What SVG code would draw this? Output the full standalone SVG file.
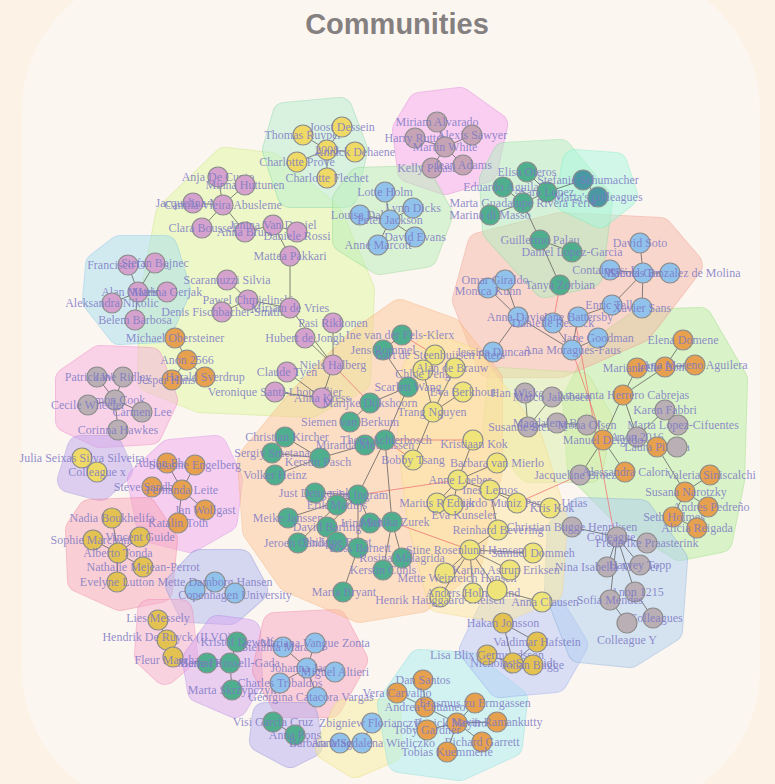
<svg xmlns="http://www.w3.org/2000/svg" xmlns:xlink="http://www.w3.org/1999/xlink" width="775" height="784" viewBox="0 0 775 784">
<style>
.title{font-family:"Liberation Sans",Arial,sans-serif;font-weight:bold;font-size:29px;fill:#858080;text-anchor:middle}
text.l{font-family:"Liberation Serif","Times New Roman",serif;font-size:12px;fill:#7c78c4;fill-opacity:0.85;text-anchor:middle}
circle{stroke:#8c8c8c;stroke-width:1.2}
.nl{fill:#d4a2cc}.ny{fill:#f0da66}.ny2{fill:#eee47a}.nm{fill:#c6a4b6}.nb{fill:#90c2ec}.nt{fill:#4fae8e}.no{fill:#e6a04e}.ng{fill:#b9afb5}.nd{fill:#e4c252}
.e{stroke:#5a5a5a;stroke-width:1;fill:none;stroke-opacity:0.75}
.er{stroke:#f07070;stroke-width:1;fill:none;stroke-opacity:0.75}
.hull{opacity:0.5}
</style>
<defs>
<polygon id="hA" points="285,115 340,110 355,150 345,195 290,195 275,150"/>
<polygon id="hB" points="420,105 460,100 495,125 485,170 445,182 410,170 405,130"/>
<polygon id="hC" points="360,180 420,178 440,215 425,255 380,262 345,240 345,200"/>
<polygon id="hD" points="225,160 270,165 330,215 362,290 358,380 310,405 200,400 150,380 152,300 168,215"/>
<polygon id="hE" points="120,248 165,248 178,290 160,330 120,332 95,300 98,265"/>
<polygon id="hG" points="100,358 150,360 165,400 150,432 100,435 68,420 68,380"/>
<polygon id="hH" points="80,448 110,448 120,470 100,488 70,480"/>
<polygon id="hI" points="170,452 215,448 230,480 225,520 190,540 150,530 140,480"/>
<polygon id="hJ" points="90,512 145,510 165,540 160,590 120,598 80,580 78,530"/>
<polygon id="hK" points="200,562 240,562 255,590 230,612 190,610 178,585"/>
<polygon id="hL" points="150,612 180,612 185,655 165,672 147,655"/>
<polygon id="hM" points="218,628 248,632 250,680 235,705 200,690 195,660"/>
<polygon id="hN" points="275,625 335,622 355,660 330,705 285,705 265,670"/>
<polygon id="hO" points="265,715 305,715 310,745 290,755 262,740"/>
<polygon id="hP" points="345,712 388,712 390,750 355,765 328,748"/>
<polygon id="hQ" points="420,662 470,665 515,700 510,745 460,768 400,760 390,705"/>
<polygon id="hR" points="490,612 555,612 575,645 555,680 500,685 472,650"/>
<polygon id="hS" points="580,510 640,512 675,560 670,630 630,655 580,650 557,590 560,530"/>
<polygon id="hT" points="640,322 700,320 735,380 732,480 720,540 680,548 620,510 580,470 575,400 600,350"/>
<polygon id="hU" points="500,380 580,385 600,420 590,470 530,470 495,430"/>
<polygon id="hV" points="480,245 560,225 660,230 690,265 640,330 560,365 490,365 465,300"/>
<polygon id="hW" points="505,155 560,152 600,200 590,275 545,285 495,230 492,180"/>
<polygon id="hW2" points="575,162 615,165 625,195 600,215 568,200"/>
<polygon id="hX" points="400,312 450,330 490,380 490,470 470,560 420,600 360,610 290,580 255,530 250,460 300,400 360,340"/>
<polygon id="hY" points="430,345 470,360 530,440 555,520 550,590 500,610 440,600 420,520 410,440 415,370"/>
</defs>
<rect x="0" y="0" width="775" height="784" fill="#fdf2e6"/>
<rect x="22" y="-30" width="738" height="840" rx="140" fill="#fcf6f1"/>
<text class="title" x="397" y="34">Communities</text>
<g id="hulls">
<g class="hull"><use xlink:href="#hD" fill="#e0f8a0" stroke="#c8e878" stroke-width="26" stroke-linejoin="round"/><use xlink:href="#hD" fill="#e0f8a0" stroke="#e0f8a0" stroke-width="24" stroke-linejoin="round"/></g>
<g class="hull"><use xlink:href="#hA" fill="#b8f0d0" stroke="#80d8a8" stroke-width="26" stroke-linejoin="round"/><use xlink:href="#hA" fill="#b8f0d0" stroke="#b8f0d0" stroke-width="24" stroke-linejoin="round"/></g>
<g class="hull"><use xlink:href="#hB" fill="#f8a8f0" stroke="#e080e0" stroke-width="26" stroke-linejoin="round"/><use xlink:href="#hB" fill="#f8a8f0" stroke="#f8a8f0" stroke-width="24" stroke-linejoin="round"/></g>
<g class="hull"><use xlink:href="#hC" fill="#b8f0b8" stroke="#90d890" stroke-width="26" stroke-linejoin="round"/><use xlink:href="#hC" fill="#b8f0b8" stroke="#b8f0b8" stroke-width="24" stroke-linejoin="round"/></g>
<g class="hull"><use xlink:href="#hE" fill="#a8e0f0" stroke="#80c8e8" stroke-width="26" stroke-linejoin="round"/><use xlink:href="#hE" fill="#a8e0f0" stroke="#a8e0f0" stroke-width="24" stroke-linejoin="round"/></g>
<g class="hull"><use xlink:href="#hG" fill="#f8b0e0" stroke="#f080c8" stroke-width="26" stroke-linejoin="round"/><use xlink:href="#hG" fill="#f8b0e0" stroke="#f8b0e0" stroke-width="24" stroke-linejoin="round"/></g>
<g class="hull"><use xlink:href="#hH" fill="#c0a8f0" stroke="#a090e0" stroke-width="26" stroke-linejoin="round"/><use xlink:href="#hH" fill="#c0a8f0" stroke="#c0a8f0" stroke-width="24" stroke-linejoin="round"/></g>
<g class="hull"><use xlink:href="#hI" fill="#f0a8f0" stroke="#d888e8" stroke-width="26" stroke-linejoin="round"/><use xlink:href="#hI" fill="#f0a8f0" stroke="#f0a8f0" stroke-width="24" stroke-linejoin="round"/></g>
<g class="hull"><use xlink:href="#hJ" fill="#f8a8b8" stroke="#f08098" stroke-width="26" stroke-linejoin="round"/><use xlink:href="#hJ" fill="#f8a8b8" stroke="#f8a8b8" stroke-width="24" stroke-linejoin="round"/></g>
<g class="hull"><use xlink:href="#hK" fill="#b0b8f0" stroke="#8890e0" stroke-width="26" stroke-linejoin="round"/><use xlink:href="#hK" fill="#b0b8f0" stroke="#b0b8f0" stroke-width="24" stroke-linejoin="round"/></g>
<g class="hull"><use xlink:href="#hL" fill="#f8b0d0" stroke="#f088b8" stroke-width="26" stroke-linejoin="round"/><use xlink:href="#hL" fill="#f8b0d0" stroke="#f8b0d0" stroke-width="24" stroke-linejoin="round"/></g>
<g class="hull"><use xlink:href="#hM" fill="#d8a8f0" stroke="#b888e8" stroke-width="26" stroke-linejoin="round"/><use xlink:href="#hM" fill="#d8a8f0" stroke="#d8a8f0" stroke-width="24" stroke-linejoin="round"/></g>
<g class="hull"><use xlink:href="#hN" fill="#f8a8c0" stroke="#f080a0" stroke-width="26" stroke-linejoin="round"/><use xlink:href="#hN" fill="#f8a8c0" stroke="#f8a8c0" stroke-width="24" stroke-linejoin="round"/></g>
<g class="hull"><use xlink:href="#hO" fill="#b8b0f0" stroke="#9090e0" stroke-width="26" stroke-linejoin="round"/><use xlink:href="#hO" fill="#b8b0f0" stroke="#b8b0f0" stroke-width="24" stroke-linejoin="round"/></g>
<g class="hull"><use xlink:href="#hP" fill="#f8f0a0" stroke="#e8e070" stroke-width="26" stroke-linejoin="round"/><use xlink:href="#hP" fill="#f8f0a0" stroke="#f8f0a0" stroke-width="24" stroke-linejoin="round"/></g>
<g class="hull"><use xlink:href="#hQ" fill="#a8f0f0" stroke="#80e0e0" stroke-width="26" stroke-linejoin="round"/><use xlink:href="#hQ" fill="#a8f0f0" stroke="#a8f0f0" stroke-width="24" stroke-linejoin="round"/></g>
<g class="hull"><use xlink:href="#hR" fill="#b8c8f8" stroke="#90a8f0" stroke-width="26" stroke-linejoin="round"/><use xlink:href="#hR" fill="#b8c8f8" stroke="#b8c8f8" stroke-width="24" stroke-linejoin="round"/></g>
<g class="hull"><use xlink:href="#hT" fill="#b8f0a0" stroke="#90e078" stroke-width="26" stroke-linejoin="round"/><use xlink:href="#hT" fill="#b8f0a0" stroke="#b8f0a0" stroke-width="24" stroke-linejoin="round"/></g>
<g class="hull"><use xlink:href="#hS" fill="#b0d0f0" stroke="#88b0e0" stroke-width="26" stroke-linejoin="round"/><use xlink:href="#hS" fill="#b0d0f0" stroke="#b0d0f0" stroke-width="24" stroke-linejoin="round"/></g>
<g class="hull"><use xlink:href="#hV" fill="#f8b8a8" stroke="#f09888" stroke-width="26" stroke-linejoin="round"/><use xlink:href="#hV" fill="#f8b8a8" stroke="#f8b8a8" stroke-width="24" stroke-linejoin="round"/></g>
<g class="hull"><use xlink:href="#hW" fill="#b0f0c0" stroke="#88e0a0" stroke-width="26" stroke-linejoin="round"/><use xlink:href="#hW" fill="#b0f0c0" stroke="#b0f0c0" stroke-width="24" stroke-linejoin="round"/></g>
<g class="hull"><use xlink:href="#hW2" fill="#a8f8e0" stroke="#80f0c8" stroke-width="26" stroke-linejoin="round"/><use xlink:href="#hW2" fill="#a8f8e0" stroke="#a8f8e0" stroke-width="24" stroke-linejoin="round"/></g>
<g class="hull"><use xlink:href="#hU" fill="#d8f0a8" stroke="#c0e090" stroke-width="26" stroke-linejoin="round"/><use xlink:href="#hU" fill="#d8f0a8" stroke="#d8f0a8" stroke-width="24" stroke-linejoin="round"/></g>
<g class="hull"><use xlink:href="#hX" fill="#fcc898" stroke="#f8b078" stroke-width="26" stroke-linejoin="round"/><use xlink:href="#hX" fill="#fcc898" stroke="#fcc898" stroke-width="24" stroke-linejoin="round"/></g>
<g class="hull"><use xlink:href="#hY" fill="#fce8a0" stroke="#f8d880" stroke-width="26" stroke-linejoin="round"/><use xlink:href="#hY" fill="#fce8a0" stroke="#fce8a0" stroke-width="24" stroke-linejoin="round"/></g>
</g>
<g id="connectors">
<path class="er" d="M575,320L613,528M560,285L553,323M385,440L473,440M392,522L470,550M358,495L458,480M517,503L580,475M333,365L370,403M402,335L435,355M385,440L413,460M572,350L603,440"/>
<path class="e" d="M342,127L327,150M303,135L327,150M327,150L355,152M327,150L297,162M327,150L327,178"/>
<path class="e" d="M437,122L445,147M415,138L445,147M472,135L445,147M445,147L432,168M445,147L463,165"/>
<path class="e" d="M385,192L390,220M413,208L390,220M360,215L390,220M390,220L415,237M390,220L378,245"/>
<path class="e" d="M218,177L223,205M245,185L223,205M193,203L223,205M202,228L223,205M223,205L245,232M245,232L273,225M273,225L297,232M273,225L290,256M290,256L290,308M290,308L333,365M333,323L333,365M305,338L333,365M333,365L322,398M248,300L227,280M248,300L222,312M248,300L290,308M287,372L322,398M275,392L322,398"/>
<path class="e" d="M128,265L138,292M155,263L138,292M138,292L167,292M138,292L112,303M138,292L135,320"/>
<path class="e" d="M175,338L187,360M187,360L172,380M187,360L205,377"/>
<path class="e" d="M97,377L115,400M123,377L115,400M88,405L115,400M142,412L115,400M115,400L118,430"/>
<path class="e" d="M82,458L97,472"/>
<path class="e" d="M167,463L182,490M195,465L182,490M152,487L182,490M182,490L205,510M182,490L178,523"/>
<path class="e" d="M112,518L118,553M93,540L118,553M140,537L118,553M118,553L143,567M118,553L117,582"/>
<path class="e" d="M195,590L215,582M215,582L235,593"/>
<path class="e" d="M158,620L167,640M167,640L173,657"/>
<path class="e" d="M237,642L230,663M207,663L230,663M230,663L232,690"/>
<path class="e" d="M283,647L307,668M315,643L307,668M307,668L335,672M307,668L280,683M307,668L317,697"/>
<path class="e" d="M273,722L295,735"/>
<path class="e" d="M372,723L362,743M340,743L362,743"/>
<path class="e" d="M423,680L425,707M397,693L425,707M425,707L457,723M475,703L457,723M497,722L457,723M427,730L457,723M482,742L457,723M447,752L457,723"/>
<path class="e" d="M503,623L513,663M537,642L513,663M487,655L513,663M533,665L513,663M503,623L537,642"/>
<path class="e" d="M617,537L572,527M617,537L647,543M617,537L607,567M617,537L640,565M617,537L635,592M617,537L610,600M635,592L653,618M610,600L627,623"/>
<path class="e" d="M683,340L665,367M637,368L623,395M665,367L623,395M695,365L665,367M623,395L603,440M603,440L625,472M657,447L637,437M665,410L678,425M637,437L665,410M710,475L685,492M685,492L708,507M685,492L673,517M673,517L697,528M657,447L685,492M603,440L580,475M623,395L637,437M657,447L677,447"/>
<path class="e" d="M525,393L528,427M552,397L528,427M528,427L557,423M557,423L587,425"/>
<path class="e" d="M640,243L643,273M610,270L643,273M643,273L670,273M643,273L612,305M643,273L642,308M612,305L578,317M578,317L572,350M518,317L572,350M553,323L572,350M598,338L572,350M493,352L518,317M488,288L518,317M505,280L518,317"/>
<path class="e" d="M527,172L547,192M503,187L523,203M547,192L523,203M523,203L540,240M490,215L523,203M540,240L560,285M572,252L540,240M583,180L598,197M547,192L583,180"/>
<path class="e" d="M402,335L383,350M383,350L408,387M408,387L370,403M370,403L350,422M385,440L408,387M385,440L365,445M365,445L320,458M320,458L285,437M320,458L272,453M320,458L275,475M385,440L358,495M358,495L315,493M358,495L337,505M358,495L288,518M358,495L327,527M358,495L370,523M385,440L392,522M392,522L402,558M392,522L383,570M358,495L358,548M337,542L358,548M298,543L337,505M358,548L343,592"/>
<path class="e" d="M435,355L423,370M423,370L433,412M455,368L433,412M463,392L433,412M433,412L413,460M473,440L458,480M497,463L458,480M458,480L437,503M458,480L490,490M458,480L453,505M490,490L517,503M490,490L550,508M490,490L498,530M498,530L470,550M470,550L445,573M470,550L510,570M470,550L533,553M470,550L440,597M470,550L473,593M470,550L497,590M497,590L542,602"/>
</g>
<g id="nodes">
<g id="n-thomas-ruyper"><circle cx="303" cy="135" r="10" class="ny"/><text class="l" x="303" y="139">Thomas Ruyper</text></g>
<g id="n-joost-dessein"><circle cx="342" cy="127" r="10" class="ny"/><text class="l" x="342" y="131">Joost Dessein</text></g>
<g id="n-2008"><circle cx="327" cy="150" r="10" class="ny"/><text class="l" x="327" y="154">2008</text></g>
<g id="n-annick-dehaene"><circle cx="355" cy="152" r="10" class="ny"/><text class="l" x="355" y="156">Annick Dehaene</text></g>
<g id="n-charlotte-prove"><circle cx="297" cy="162" r="10" class="ny"/><text class="l" x="297" y="166">Charlotte Prove</text></g>
<g id="n-charlotte-flechet"><circle cx="327" cy="178" r="10" class="ny"/><text class="l" x="327" y="182">Charlotte Flechet</text></g>

<g id="n-miriam-alvarado"><circle cx="437" cy="122" r="10" class="nm"/><text class="l" x="437" y="126">Miriam Alvarado</text></g>
<g id="n-alexis-sawyer"><circle cx="472" cy="135" r="10" class="nm"/><text class="l" x="472" y="139">Alexis Sawyer</text></g>
<g id="n-harry-rutter"><circle cx="415" cy="138" r="10" class="nm"/><text class="l" x="415" y="142">Harry Rutter</text></g>
<g id="n-martin-white"><circle cx="445" cy="147" r="10" class="nm"/><text class="l" x="445" y="151">Martin White</text></g>
<g id="n-kelly-pleasant"><circle cx="432" cy="168" r="10" class="nm"/><text class="l" x="432" y="172">Kelly Pleasant</text></g>
<g id="n-jean-adams"><circle cx="463" cy="165" r="10" class="nm"/><text class="l" x="463" y="169">Jean Adams</text></g>

<g id="n-lotte-holm"><circle cx="385" cy="192" r="10" class="nb"/><text class="l" x="385" y="196">Lotte Holm</text></g>
<g id="n-lynn-dicks"><circle cx="413" cy="208" r="10" class="nb"/><text class="l" x="413" y="212">Lynn Dicks</text></g>
<g id="n-louise-dale"><circle cx="360" cy="215" r="10" class="nb"/><text class="l" x="360" y="219">Louise Dale</text></g>
<g id="n-peter-jackson"><circle cx="390" cy="220" r="10" class="nb"/><text class="l" x="390" y="224">Peter Jackson</text></g>
<g id="n-david-evans"><circle cx="415" cy="237" r="10" class="nb"/><text class="l" x="415" y="241">David Evans</text></g>
<g id="n-anne-marcott"><circle cx="378" cy="245" r="10" class="nb"/><text class="l" x="378" y="249">Anne Marcott</text></g>

<g id="n-anja"><circle cx="218" cy="177" r="10" class="nl"/><text class="l" x="218" y="181">Anja De Cunto</text></g>
<g id="n-minna"><circle cx="245" cy="185" r="10" class="nl"/><text class="l" x="245" y="189">Minna Huttunen</text></g>
<g id="n-jacquelina"><circle cx="193" cy="203" r="10" class="nl"/><text class="l" x="193" y="207">Jacquelina Mac</text></g>
<g id="n-camila"><circle cx="223" cy="205" r="10" class="nl"/><text class="l" x="223" y="209">Camila Vieira Abusleme</text></g>
<g id="n-clara"><circle cx="202" cy="228" r="10" class="nl"/><text class="l" x="202" y="232">Clara Boussel</text></g>
<g id="n-anna-bruni"><circle cx="245" cy="232" r="10" class="nl"/><text class="l" x="245" y="236">Anna Bruni</text></g>
<g id="n-janina"><circle cx="273" cy="225" r="10" class="nl"/><text class="l" x="273" y="229">Janina Van Daniel</text></g>
<g id="n-daniele-rossi"><circle cx="297" cy="232" r="10" class="nl"/><text class="l" x="297" y="240">Daniele Rossi</text></g>
<g id="n-mattea"><circle cx="290" cy="256" r="10" class="nl"/><text class="l" x="290" y="260">Mattea Pakkari</text></g>
<g id="n-scaramuzzi"><circle cx="227" cy="280" r="10" class="nl"/><text class="l" x="227" y="284">Scaramuzzi Silvia</text></g>
<g id="n-pawel"><circle cx="248" cy="300" r="10" class="nl"/><text class="l" x="248" y="304">Pawel Chmielinski</text></g>
<g id="n-denis"><circle cx="222" cy="312" r="10" class="nl"/><text class="l" x="222" y="316">Denis Fischbacher-Smith</text></g>
<g id="n-mirjam"><circle cx="290" cy="308" r="10" class="nl"/><text class="l" x="290" y="312">Mirjam de Vries</text></g>
<g id="n-pasi"><circle cx="333" cy="323" r="10" class="nl"/><text class="l" x="333" y="327">Pasi Rikkonen</text></g>
<g id="n-hubert"><circle cx="305" cy="338" r="10" class="nl"/><text class="l" x="305" y="342">Hubert de Jongh</text></g>
<g id="n-niels"><circle cx="333" cy="365" r="10" class="nl"/><text class="l" x="333" y="369">Niels Halberg</text></g>
<g id="n-claude"><circle cx="287" cy="372" r="10" class="nl"/><text class="l" x="287" y="376">Claude Tyen</text></g>
<g id="n-veronique"><circle cx="275" cy="392" r="10" class="nl"/><text class="l" x="275" y="396">Veronique Santi-Lhoutellier</text></g>
<g id="n-anna-kress"><circle cx="322" cy="398" r="10" class="nl"/><text class="l" x="322" y="402">Anna Kress</text></g>

<g id="n-francisco"><circle cx="128" cy="265" r="10" class="nl"/><text class="l" x="128" y="269">Francisco Olmos</text></g>
<g id="n-stefan"><circle cx="155" cy="263" r="10" class="nl"/><text class="l" x="155" y="267">Stefan Bojnec</text></g>
<g id="n-alan-m"><circle cx="138" cy="292" r="10" class="nl"/><text class="l" x="138" y="296">Alan Matthews</text></g>
<g id="n-marina-g"><circle cx="167" cy="292" r="10" class="nl"/><text class="l" x="167" y="296">Marina Gerjak</text></g>
<g id="n-aleksandra"><circle cx="112" cy="303" r="10" class="nl"/><text class="l" x="112" y="307">Aleksandra Nikolic</text></g>
<g id="n-belem"><circle cx="135" cy="320" r="10" class="nl"/><text class="l" x="135" y="324">Belem Barbosa</text></g>

<g id="n-michael-o"><circle cx="175" cy="338" r="10" class="no"/><text class="l" x="175" y="342">Michael Obersteiner</text></g>
<g id="n-anon2566"><circle cx="187" cy="360" r="10" class="no"/><text class="l" x="187" y="364">Anon 2566</text></g>
<g id="n-jesper"><circle cx="172" cy="380" r="10" class="no"/><text class="l" x="172" y="384">Jesper Hansen</text></g>
<g id="n-harald"><circle cx="205" cy="377" r="10" class="no"/><text class="l" x="205" y="381">Harald Sverdrup</text></g>

<g id="n-patrick-webb"><circle cx="97" cy="377" r="10" class="ng"/><text class="l" x="97" y="381">Patrick Webb</text></g>
<g id="n-jane-ridley"><circle cx="123" cy="377" r="10" class="ng"/><text class="l" x="123" y="381">Jane Ridley</text></g>
<g id="n-simon-cook"><circle cx="115" cy="400" r="10" class="ng"/><text class="l" x="115" y="404">Simon Cook</text></g>
<g id="n-cecile"><circle cx="88" cy="405" r="10" class="ng"/><text class="l" x="88" y="409">Cecile Wheeler</text></g>
<g id="n-carmen-lee"><circle cx="142" cy="412" r="10" class="ng"/><text class="l" x="142" y="416">Carmen Lee</text></g>
<g id="n-corinna"><circle cx="118" cy="430" r="10" class="ng"/><text class="l" x="118" y="434">Corinna Hawkes</text></g>

<g id="n-julia"><circle cx="82" cy="458" r="10" class="ny"/><text class="l" x="82" y="462">Julia Seixas Silva Silveira</text></g>
<g id="n-colleague-x"><circle cx="97" cy="472" r="10" class="ny"/><text class="l" x="97" y="476">Colleague x</text></g>

<g id="n-adrian"><circle cx="167" cy="463" r="10" class="no"/><text class="l" x="167" y="467">Adrian Ebsen</text></g>
<g id="n-susanne-e"><circle cx="195" cy="465" r="10" class="no"/><text class="l" x="195" y="469">Susanne Engelberg</text></g>
<g id="n-steve"><circle cx="152" cy="487" r="10" class="no"/><text class="l" x="152" y="491">Steve Sandbach</text></g>
<g id="n-fernanda"><circle cx="182" cy="490" r="10" class="no"/><text class="l" x="182" y="494">Fernanda Leite</text></g>
<g id="n-jan-wollgast"><circle cx="205" cy="510" r="10" class="no"/><text class="l" x="205" y="514">Jan Wollgast</text></g>
<g id="n-katalin"><circle cx="178" cy="523" r="10" class="no"/><text class="l" x="178" y="527">Katalin Toth</text></g>

<g id="n-nadia-b"><circle cx="112" cy="518" r="10" class="nd"/><text class="l" x="112" y="522">Nadia Boukhelifa</text></g>
<g id="n-sophie"><circle cx="93" cy="540" r="10" class="nd"/><text class="l" x="93" y="544">Sophie Marchand</text></g>
<g id="n-vincent"><circle cx="140" cy="537" r="10" class="nd"/><text class="l" x="140" y="541">Vincent Guide</text></g>
<g id="n-alberto"><circle cx="118" cy="553" r="10" class="nd"/><text class="l" x="118" y="557">Alberto Tonda</text></g>
<g id="n-nathalie"><circle cx="143" cy="567" r="10" class="nd"/><text class="l" x="143" y="571">Nathalie Mejean-Perrot</text></g>
<g id="n-evelyne"><circle cx="117" cy="582" r="10" class="nd"/><text class="l" x="117" y="586">Evelyne Lutton</text></g>

<g id="n-k1"><circle cx="195" cy="590" r="10" class="nb"/></g>
<g id="n-mette-d"><circle cx="215" cy="582" r="10" class="nb"/><text class="l" x="215" y="586">Mette Damborg Hansen</text></g>
<g id="n-cph"><circle cx="235" cy="593" r="10" class="nb"/><text class="l" x="235" y="599">Copenhagen University</text></g>

<g id="n-lies"><circle cx="158" cy="620" r="10" class="nd"/><text class="l" x="158" y="622">Lies Messely</text></g>
<g id="n-hendrik"><circle cx="167" cy="640" r="10" class="nd"/><text class="l" x="167" y="641">Hendrik De Ruyck (ILVO)</text></g>
<g id="n-fleur"><circle cx="173" cy="657" r="10" class="nd"/><text class="l" x="173" y="664">Fleur Marchand</text></g>

<g id="n-kristof"><circle cx="237" cy="642" r="10" class="nt"/><text class="l" x="237" y="646">Kristof Dewulf</text></g>
<g id="n-marie-f"><circle cx="207" cy="663" r="10" class="nt"/><text class="l" x="207" y="667">Marie Fosse</text></g>
<g id="n-bernat"><circle cx="230" cy="663" r="10" class="nt"/><text class="l" x="230" y="667">Bernat Rossell-Gada</text></g>
<g id="n-marta-s"><circle cx="232" cy="690" r="10" class="nt"/><text class="l" x="232" y="694">Marta Skrzypczyk</text></g>

<g id="n-stefania"><circle cx="283" cy="647" r="10" class="nb"/><text class="l" x="283" y="651">Stefania Marasca</text></g>
<g id="n-mariana-vz"><circle cx="315" cy="643" r="10" class="nb"/><text class="l" x="315" y="647">Mariana Vangue Zonta</text></g>
<g id="n-johanna"><circle cx="307" cy="668" r="10" class="nb"/><text class="l" x="307" y="672">Johanna Jacobi</text></g>
<g id="n-miguel"><circle cx="335" cy="672" r="10" class="nb"/><text class="l" x="335" y="676">Miguel Altieri</text></g>
<g id="n-charles"><circle cx="280" cy="683" r="10" class="nb"/><text class="l" x="280" y="687">Charles Tribaldos</text></g>
<g id="n-georgina"><circle cx="317" cy="697" r="10" class="nb"/><text class="l" x="311" y="701">Georgina Catacora Vargas</text></g>

<g id="n-visi"><circle cx="273" cy="722" r="10" class="nt"/><text class="l" x="273" y="726">Visi Garcia Cruz</text></g>
<g id="n-anna-pons"><circle cx="295" cy="735" r="10" class="nt"/><text class="l" x="295" y="739">Anna Pons</text></g>

<g id="n-zbigniew"><circle cx="372" cy="723" r="10" class="nb"/><text class="l" x="372" y="727">Zbigniew Florianczyk</text></g>
<g id="n-anna-sosna"><circle cx="340" cy="743" r="10" class="nb"/><text class="l" x="340" y="747">Anna Sosna</text></g>
<g id="n-barbara-w"><circle cx="362" cy="743" r="10" class="nb"/><text class="l" x="362" y="747">Barbara Magdalena Wieliczko</text></g>

<g id="n-dan-santos"><circle cx="423" cy="680" r="10" class="no"/><text class="l" x="423" y="684">Dan Santos</text></g>
<g id="n-vera"><circle cx="397" cy="693" r="10" class="no"/><text class="l" x="397" y="697">Vera Carvalho</text></g>
<g id="n-andrea-c"><circle cx="425" cy="707" r="10" class="no"/><text class="l" x="425" y="711">Andrea Cattaneo</text></g>
<g id="n-erasmus"><circle cx="475" cy="703" r="10" class="no"/><text class="l" x="475" y="707">Erasmus zu Ermgassen</text></g>
<g id="n-patrick-m"><circle cx="457" cy="723" r="10" class="no"/><text class="l" x="457" y="727">Patrick Meyfroidt</text></g>
<g id="n-navin"><circle cx="497" cy="722" r="10" class="no"/><text class="l" x="497" y="726">Navin Ramankutty</text></g>
<g id="n-toby"><circle cx="427" cy="730" r="10" class="no"/><text class="l" x="427" y="734">Toby Gardner</text></g>
<g id="n-richard"><circle cx="482" cy="742" r="10" class="no"/><text class="l" x="482" y="746">Richard Garrett</text></g>
<g id="n-tobias"><circle cx="447" cy="752" r="10" class="no"/><text class="l" x="447" y="756">Tobias Kuemmerle</text></g>

<g id="n-hakan"><circle cx="503" cy="623" r="10" class="nd"/><text class="l" x="503" y="627">Hakan Jonsson</text></g>
<g id="n-valdimar"><circle cx="537" cy="642" r="10" class="nd"/><text class="l" x="537" y="646">Valdimar Hafstein</text></g>
<g id="n-lisa"><circle cx="487" cy="655" r="10" class="nd"/><text class="l" x="487" y="659">Lisa Blix Germundsson</text></g>
<g id="n-nicholas"><circle cx="513" cy="663" r="10" class="nd"/><text class="l" x="513" y="667">Nicholas Schmidt</text></g>
<g id="n-johan-b"><circle cx="533" cy="665" r="10" class="nd"/><text class="l" x="533" y="669">Johan Bugge</text></g>

<g id="n-christian-bh"><circle cx="572" cy="527" r="10" class="ng"/><text class="l" x="572" y="531">Christian Bugge Henriksen</text></g>
<g id="n-colleague"><circle cx="617" cy="537" r="10" class="ng"/><text class="l" x="611" y="541">Colleague</text></g>
<g id="n-frederike"><circle cx="647" cy="543" r="10" class="ng"/><text class="l" x="647" y="547">Frederike Praasterink</text></g>
<g id="n-nina"><circle cx="607" cy="567" r="10" class="ng"/><text class="l" x="607" y="571">Nina Isabella Moeller</text></g>
<g id="n-harvey"><circle cx="640" cy="565" r="10" class="ng"/><text class="l" x="640" y="569">Harvey Topp</text></g>
<g id="n-anon1215"><circle cx="635" cy="592" r="10" class="ng"/><text class="l" x="637" y="596">Anon 1215</text></g>
<g id="n-sofia"><circle cx="610" cy="600" r="10" class="ng"/><text class="l" x="610" y="604">Sofia Mendes</text></g>
<g id="n-colleagues"><circle cx="653" cy="618" r="10" class="ng"/><text class="l" x="656" y="622">Colleagues</text></g>
<g id="n-colleague-y"><circle cx="627" cy="623" r="10" class="ng"/><text class="l" x="627" y="644">Colleague Y</text></g>

<g id="n-elena"><circle cx="683" cy="340" r="10" class="no"/><text class="l" x="683" y="344">Elena Domene</text></g>
<g id="n-mariana-c"><circle cx="637" cy="368" r="10" class="no"/><text class="l" x="637" y="372">Mariana Calle</text></g>
<g id="n-irene"><circle cx="665" cy="367" r="10" class="no"/><text class="l" x="665" y="371">Irene Bonet</text></g>
<g id="n-ana-ma"><circle cx="695" cy="365" r="10" class="no"/><text class="l" x="695" y="369">Ana Moreno Aguilera</text></g>
<g id="n-amaranta"><circle cx="623" cy="395" r="10" class="no"/><text class="l" x="623" y="399">Amaranta Herrero Cabrejas</text></g>
<g id="n-karen"><circle cx="665" cy="410" r="10" class="ng"/><text class="l" x="665" y="414">Karen Fabbri</text></g>
<g id="n-marta-lc"><circle cx="678" cy="425" r="10" class="ng"/><text class="l" x="683" y="429">Marta Lopez-Cifuentes</text></g>
<g id="n-anon2016"><circle cx="637" cy="437" r="10" class="ng"/><text class="l" x="637" y="441">Anon 2016</text></g>
<g id="n-manuel-d"><circle cx="603" cy="440" r="10" class="no"/><text class="l" x="603" y="444">Manuel Delgado</text></g>
<g id="n-laura"><circle cx="657" cy="447" r="10" class="no"/><text class="l" x="657" y="451">Laura Piscina</text></g>
<g id="n-t-grey"><circle cx="677" cy="447" r="10" class="ng"/></g>
<g id="n-jacqueline-b"><circle cx="580" cy="475" r="10" class="ng"/><text class="l" x="578" y="479">Jacqueline Broeze</text></g>
<g id="n-alessandra"><circle cx="625" cy="472" r="10" class="no"/><text class="l" x="625" y="476">Alessandra Calori</text></g>
<g id="n-valeria"><circle cx="710" cy="475" r="10" class="no"/><text class="l" x="711" y="479">Valeria Siniscalchi</text></g>
<g id="n-susana"><circle cx="685" cy="492" r="10" class="no"/><text class="l" x="686" y="496">Susana Narotzky</text></g>
<g id="n-andres"><circle cx="708" cy="507" r="10" class="no"/><text class="l" x="711" y="511">Andres Pedreño</text></g>
<g id="n-seth"><circle cx="673" cy="517" r="10" class="no"/><text class="l" x="674" y="521">Seth Holmes</text></g>
<g id="n-alicia"><circle cx="697" cy="528" r="10" class="no"/><text class="l" x="697" y="532">Alicia Reigada</text></g>

<g id="n-han"><circle cx="525" cy="393" r="10" class="ng"/><text class="l" x="525" y="397">Han Wiskerke</text></g>
<g id="n-marco"><circle cx="552" cy="397" r="10" class="ng"/><text class="l" x="552" y="401">Marco Jakobsen</text></g>
<g id="n-susanne-s"><circle cx="528" cy="427" r="10" class="ng"/><text class="l" x="528" y="431">Susanne Steimle</text></g>
<g id="n-magdalena"><circle cx="557" cy="423" r="10" class="ng"/><text class="l" x="557" y="427">Magdalena Bleyer</text></g>
<g id="n-mona"><circle cx="587" cy="425" r="10" class="ng"/><text class="l" x="587" y="429">Mona Olsen</text></g>

<g id="n-david-soto"><circle cx="640" cy="243" r="10" class="nb"/><text class="l" x="640" y="247">David Soto</text></g>
<g id="n-containers"><circle cx="610" cy="270" r="10" class="nb"/><text class="l" x="610" y="274">Containers: Bio</text></g>
<g id="n-nicolas"><circle cx="643" cy="273" r="10" class="nb"/><text class="l" x="643" y="277">Nicolas Bricas</text></g>
<g id="n-manuel-gm"><circle cx="670" cy="273" r="10" class="nb"/><text class="l" x="672" y="277">Manuel Gonzalez de Molina</text></g>
<g id="n-enric"><circle cx="612" cy="305" r="10" class="nb"/><text class="l" x="612" y="309">Enric Tello</text></g>
<g id="n-xavier"><circle cx="642" cy="308" r="10" class="nb"/><text class="l" x="642" y="312">Xavier Sans</text></g>
<g id="n-anna-davies"><circle cx="518" cy="317" r="10" class="nb"/><text class="l" x="518" y="321">Anna Davies</text></g>
<g id="n-danielle"><circle cx="553" cy="323" r="10" class="nb"/><text class="l" x="553" y="327">Danielle Resnick</text></g>
<g id="n-jane-b"><circle cx="578" cy="317" r="10" class="nb"/><text class="l" x="578" y="321">Jane Battersby</text></g>
<g id="n-jane-g"><circle cx="598" cy="338" r="10" class="nb"/><text class="l" x="598" y="342">Jane Goodman</text></g>
<g id="n-ana-mf"><circle cx="572" cy="350" r="10" class="nb"/><text class="l" x="572" y="354">Ana Moragues-Faus</text></g>
<g id="n-jessica"><circle cx="493" cy="352" r="10" class="nb"/><text class="l" x="493" y="356">Jessica Duncan</text></g>
<g id="n-monica"><circle cx="488" cy="288" r="10" class="nb"/><text class="l" x="488" y="295">Monica Kuhn</text></g>
<g id="n-omar"><circle cx="505" cy="280" r="10" class="nb"/><text class="l" x="495" y="284">Omar Giraldo</text></g>

<g id="n-elisa"><circle cx="527" cy="172" r="10" class="nt"/><text class="l" x="527" y="176">Elisa Oteros</text></g>
<g id="n-eduardo-a"><circle cx="503" cy="187" r="10" class="nt"/><text class="l" x="503" y="191">Eduardo Aguilar</text></g>
<g id="n-sara-lopez"><circle cx="547" cy="192" r="10" class="nt"/><text class="l" x="547" y="196">Sara Lopez</text></g>
<g id="n-stefanie"><circle cx="583" cy="180" r="10" class="nt" style="fill:#4a98a4"/><text class="l" x="588" y="184">Stefanie Schumacher</text></g>
<g id="n-martas-colleagues"><circle cx="598" cy="197" r="10" class="nt" style="fill:#4a98a4"/><text class="l" x="598" y="201">Marta's colleagues</text></g>
<g id="n-marta-grf"><circle cx="523" cy="203" r="10" class="nt"/><text class="l" x="523" y="207">Marta Guadalupe Rivera Ferre</text></g>
<g id="n-marina-dm"><circle cx="490" cy="215" r="10" class="nt"/><text class="l" x="490" y="219">Marina di Masso</text></g>
<g id="n-guillermo"><circle cx="540" cy="240" r="10" class="nt"/><text class="l" x="540" y="244">Guillermo Palau</text></g>
<g id="n-daniel-lg"><circle cx="572" cy="252" r="10" class="nt"/><text class="l" x="572" y="256">Daniel Lopez-Garcia</text></g>
<g id="n-tanya"><circle cx="560" cy="285" r="10" class="nt"/><text class="l" x="560" y="289">Tanya Zorbian</text></g>

<g id="n-ine"><circle cx="402" cy="335" r="10" class="nt"/><text class="l" x="400" y="339">Ine van der Fels-Klerx</text></g>
<g id="n-jens"><circle cx="383" cy="350" r="10" class="nt"/><text class="l" x="383" y="354">Jens Rommel</text></g>
<g id="n-scarlett"><circle cx="408" cy="387" r="10" class="nt"/><text class="l" x="408" y="391">Scarlett Wang</text></g>
<g id="n-marijke"><circle cx="370" cy="403" r="10" class="nt"/><text class="l" x="370" y="407">Marijke Dijkshoorn</text></g>
<g id="n-siemen"><circle cx="350" cy="422" r="10" class="nt"/><text class="l" x="350" y="426">Siemen van Berkum</text></g>
<g id="n-christian-k"><circle cx="285" cy="437" r="10" class="nt"/><text class="l" x="287" y="441">Christian Kircher</text></g>
<g id="n-sergiy"><circle cx="272" cy="453" r="10" class="nt"/><text class="l" x="272" y="457">Sergiy Smetana</text></g>
<g id="n-kerstin-p"><circle cx="320" cy="458" r="10" class="nt"/><text class="l" x="318" y="466">Kerstin Pasch</text></g>
<g id="n-volker"><circle cx="275" cy="475" r="10" class="nt"/><text class="l" x="275" y="479">Volker Heinz</text></g>
<g id="n-miranda"><circle cx="365" cy="445" r="10" class="nt"/><text class="l" x="365" y="449">Miranda Meuwissen</text></g>
<g id="n-thom"><circle cx="385" cy="440" r="10" class="nt"/><text class="l" x="386" y="444">Thom Achterbosch</text></g>
<g id="n-just"><circle cx="315" cy="493" r="10" class="nt"/><text class="l" x="315" y="497">Just Dengerink</text></g>
<g id="n-john"><circle cx="358" cy="495" r="10" class="nt"/><text class="l" x="358" y="499">John Ingram</text></g>
<g id="n-erik"><circle cx="337" cy="505" r="10" class="nt"/><text class="l" x="337" y="509">Erik Mathijs</text></g>
<g id="n-meike"><circle cx="288" cy="518" r="10" class="nt"/><text class="l" x="288" y="522">Meike Janssen</text></g>
<g id="n-david-b"><circle cx="327" cy="527" r="10" class="nt"/><text class="l" x="327" y="531">David Barling</text></g>
<g id="n-irina"><circle cx="370" cy="523" r="10" class="nt"/><text class="l" x="370" y="527">Irina Schulz</text></g>
<g id="n-monika"><circle cx="392" cy="522" r="10" class="nt"/><text class="l" x="395" y="526">Monika Zurek</text></g>
<g id="n-jeroen"><circle cx="298" cy="543" r="10" class="nt"/><text class="l" x="298" y="547">Jeroen Candel</text></g>
<g id="n-philippe"><circle cx="337" cy="542" r="10" class="nt"/><text class="l" x="337" y="546">Philippe Baret</text></g>
<g id="n-ross"><circle cx="358" cy="548" r="10" class="nt"/><text class="l" x="360" y="552">Ross Barnett</text></g>
<g id="n-rosina"><circle cx="402" cy="558" r="10" class="nt"/><text class="l" x="402" y="562">Rosina Malagrida</text></g>
<g id="n-kerstin-c"><circle cx="383" cy="570" r="10" class="nt"/><text class="l" x="383" y="574">Kerstin Cuhls</text></g>
<g id="n-maria-bryant"><circle cx="343" cy="592" r="10" class="nt"/><text class="l" x="344" y="596">Maria Bryant</text></g>

<g id="n-bart"><circle cx="435" cy="355" r="10" class="ny2"/><text class="l" x="440" y="359">Bart de Steenhuijsen Piters</text></g>
<g id="n-chloe"><circle cx="423" cy="370" r="10" class="ny2"/><text class="l" x="423" y="378">Chloe Feng</text></g>
<g id="n-alan-db"><circle cx="455" cy="368" r="10" class="ny2"/><text class="l" x="452" y="372">Alan de Brauw</text></g>
<g id="n-eva-b"><circle cx="463" cy="392" r="10" class="ny2"/><text class="l" x="463" y="396">Eva Berkhout</text></g>
<g id="n-trang"><circle cx="433" cy="412" r="10" class="ny2"/><text class="l" x="432" y="416">Trang Nguyen</text></g>
<g id="n-bobby"><circle cx="413" cy="460" r="10" class="ny2"/><text class="l" x="413" y="464">Bobby Tsang</text></g>
<g id="n-kristiaan"><circle cx="473" cy="440" r="10" class="ny2"/><text class="l" x="474" y="448">Kristiaan Kok</text></g>
<g id="n-barbara-vm"><circle cx="497" cy="463" r="10" class="ny2"/><text class="l" x="497" y="467">Barbara van Mierlo</text></g>
<g id="n-anne-l"><circle cx="458" cy="480" r="10" class="ny2"/><text class="l" x="460" y="484">Anne Loeber</text></g>
<g id="n-ines"><circle cx="490" cy="490" r="10" class="ny2"/><text class="l" x="490" y="494">Ines Lemos</text></g>
<g id="n-marius"><circle cx="437" cy="503" r="10" class="ny2"/><text class="l" x="437" y="507">Marius Rietdijk</text></g>
<g id="n-eva-k"><circle cx="453" cy="505" r="10" class="ny2"/><text class="l" x="464" y="519">Eva Kunseler</text></g>
<g id="n-eduardo-m"><circle cx="517" cy="503" r="10" class="ny2"/><text class="l" x="517" y="507">Eduardo Muniz Pereira Urias</text></g>
<g id="n-kris-kok"><circle cx="550" cy="508" r="10" class="ny2"/><text class="l" x="552" y="512">Kris Kok</text></g>
<g id="n-reinhard"><circle cx="498" cy="530" r="10" class="ny2"/><text class="l" x="498" y="534">Reinhard Bevering</text></g>
<g id="n-stine"><circle cx="470" cy="550" r="10" class="ny2"/><text class="l" x="465" y="554">Stine Rosenlund Hansen</text></g>
<g id="n-samuel"><circle cx="533" cy="553" r="10" class="ny2"/><text class="l" x="533" y="557">Samuel Dommeh</text></g>
<g id="n-mette-w"><circle cx="445" cy="573" r="10" class="ny2"/><text class="l" x="457" y="582">Mette Weinreich Hansen</text></g>
<g id="n-karina"><circle cx="510" cy="570" r="10" class="ny2"/><text class="l" x="506" y="574">Karina Astrup Eriksen</text></g>
<g id="n-henrik"><circle cx="440" cy="597" r="10" class="ny2"/><text class="l" x="440" y="604">Henrik Hauggaard-Nielsen</text></g>
<g id="n-anders"><circle cx="473" cy="593" r="10" class="ny2"/><text class="l" x="473" y="597">Anders Holmstrand</text></g>
<g id="n-y-extra"><circle cx="497" cy="590" r="10" class="ny2"/></g>
<g id="n-anna-clausen"><circle cx="542" cy="602" r="10" class="ny2"/><text class="l" x="545" y="606">Anna Clausen</text></g>
</g>
</svg>
